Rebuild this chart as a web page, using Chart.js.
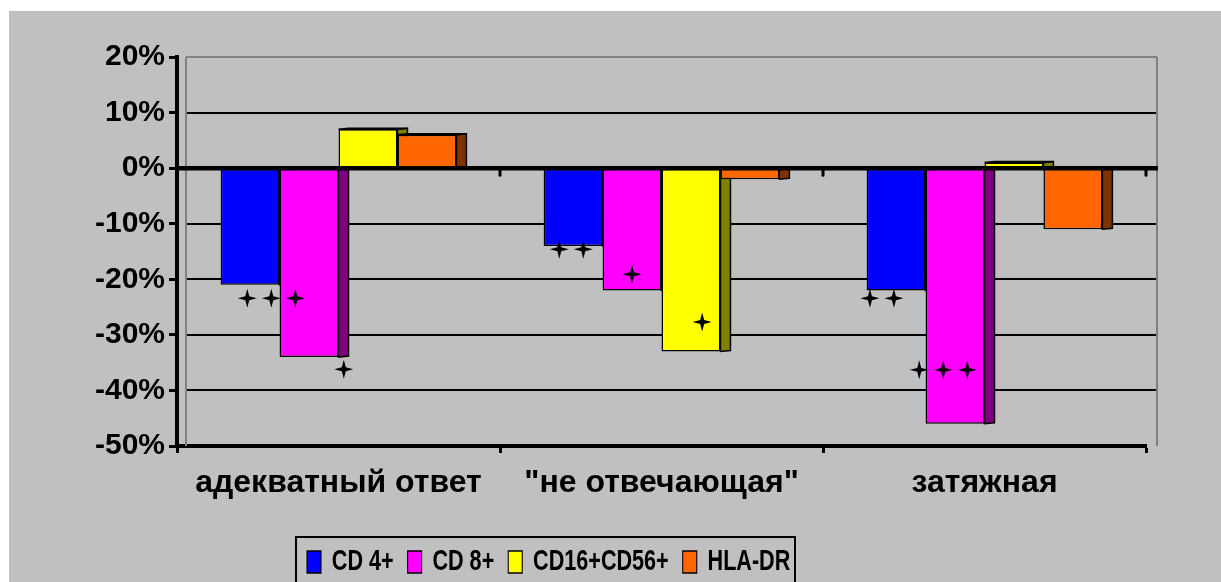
<!DOCTYPE html>
<html>
<head>
<meta charset="utf-8">
<script src="https://cdn.jsdelivr.net/npm/chart.js@4.4.1/dist/chart.umd.min.js"></script>
<style>
  html, body { margin: 0; padding: 0; background: #fff; }
</style>
</head>
<body>
<canvas id="chart" width="1221" height="582"></canvas>
<script>
// data (percent change)
const categories = ['адекватный ответ', '"не отвечающая"', 'затяжная'];
const seriesNames = ['CD 4+', 'CD 8+', 'CD16+CD56+', 'HLA-DR'];
const cd4 = [-21, -14, -22];
const cd8 = [-34, -22, -46];
const cd16cd56 = [7, -33, 1];
const hlaDr = [6, -2, -11];
const yTicks = [20, 10, 0, -10, -20, -30, -40, -50];

// significance marks (stars): series, category, how many, level in %
const markSeries = [0, 1, 0, 1, 2, 0, 1];
const markCats = [0, 0, 1, 1, 1, 2, 2];
const markCounts = [3, 1, 2, 1, 1, 2, 3];
const markLevels = [-23.4, -36.2, -14.6, -19.1, -27.7, -23.4, -36.3];
const markShift = [0.36, 0.59, -0.03, 0, 0.19, -0.24, -0.2]; // in bar widths

const fillColors = ['#0000ff', '#ff00ff', '#ffff00', '#ff6600'];
const sideColors = ['#000080', '#800080', '#808000', '#803300'];
const FONT = "'Liberation Sans', Arial, sans-serif";

const depth = 10;
const lift = 1;
const legendSquash = 0.72; // legend text in the original is condensed
const legendX = 307;

function star(c, cx, cy, r, ri) {
  c.beginPath();
  for (let k = 0; k < 8; k++) {
    const ang = k * Math.PI / 4 - Math.PI / 2;
    const rad = k % 2 ? ri : r;
    c.lineTo(cx + rad * Math.cos(ang), cy + rad * Math.sin(ang));
  }
  c.closePath();
  c.fill();
}

const decor = {
  id: 'decor',
  beforeDraw(chart) {
    const c = chart.ctx;
    c.save();
    c.fillStyle = '#ffffff';
    c.fillRect(0, 0, chart.width, chart.height);
    c.fillStyle = '#c0c0c0';
    c.fillRect(9, 11, chart.width - 9, chart.height - 11);
    c.restore();
  },
  afterLayout(chart) {
    // put the legend where the original has it, squeezed sideways
    const lg = chart.legend;
    const h = lg.height;
    const pad = lg.options.labels.padding;
    lg.left = legendX - pad;
    lg.right = 1600;
    lg.top = 562 - pad - lg.options.labels.font.size / 2;
    lg.bottom = lg.top + h;
    if (!lg._squashed) {
      const draw = lg.draw.bind(lg);
      lg.draw = function (area) {
        const c = this.ctx;
        c.save();
        c.translate(legendX, 0);
        c.scale(legendSquash, 1);
        c.translate(-legendX, 0);
        draw(area);
        c.restore();
      };
      lg._squashed = true;
    }
  },
  beforeDatasetsDraw(chart) {
    const c = chart.ctx;
    const ys = chart.scales.y;
    const a = chart.chartArea;
    const wl = a.left + 9, wr = a.right + 11;
    c.save();
    // back wall grid lines
    yTicks.forEach(t => {
      if (t === 0 || t === -50) return;
      const py = Math.round(ys.getPixelForValue(t));
      c.strokeStyle = t === 20 ? '#808080' : '#000000';
      c.lineWidth = 2;
      c.beginPath();
      c.moveTo(wl, py);
      c.lineTo(wr, py);
      c.stroke();
    });
    c.strokeStyle = '#808080';
    c.lineWidth = 2;
    c.beginPath();
    c.moveTo(wl, a.top);
    c.lineTo(wl, a.bottom);
    c.moveTo(wr, a.top);
    c.lineTo(wr, a.bottom);
    c.stroke();
    // 3D side faces, the next bar covers them
    chart.data.datasets.forEach((ds, i) => {
      chart.getDatasetMeta(i).data.forEach(bar => {
        const p = bar.getProps(['x', 'y', 'base', 'width'], true);
        const l = p.x - p.width / 2, r = p.x + p.width / 2;
        const t = Math.min(p.y, p.base), b = Math.max(p.y, p.base);
        c.fillStyle = sideColors[i];
        c.strokeStyle = '#000';
        c.lineWidth = 1.5;
        c.beginPath();
        c.moveTo(r, t);
        c.lineTo(r + depth, t - lift);
        c.lineTo(r + depth, b - lift);
        c.lineTo(r, b);
        c.closePath();
        c.fill();
        c.stroke();
        if (p.y < p.base) {
          c.beginPath();
          c.moveTo(l, t);
          c.lineTo(l + depth, t - lift);
          c.lineTo(r + depth, t - lift);
          c.lineTo(r, t);
          c.closePath();
          c.fill();
          c.stroke();
        }
      });
    });
    c.restore();
  },
  afterDatasetsDraw(chart) {
    const c = chart.ctx;
    const ys = chart.scales.y, xs = chart.scales.x;
    const a = chart.chartArea;
    const y0 = ys.getPixelForValue(0);
    c.save();
    // zero line with its small ticks
    c.strokeStyle = '#000';
    c.lineWidth = 4.5;
    c.beginPath();
    c.moveTo(a.left, y0);
    c.lineTo(a.right + 12, y0);
    c.stroke();
    const step = xs.getPixelForValue(1) - xs.getPixelForValue(0);
    c.lineWidth = 3;
    c.lineCap = 'round';
    categories.forEach((_, i) => {
      const px = xs.getPixelForValue(i) + step / 2;
      c.beginPath();
      c.moveTo(px, y0);
      c.lineTo(px, y0 + 7);
      c.stroke();
    });
    // significance stars
    c.fillStyle = '#000';
    markSeries.forEach((s, m) => {
      const bar = chart.getDatasetMeta(s).data[markCats[m]];
      const cx0 = bar.x + markShift[m] * bar.width;
      const cy = ys.getPixelForValue(markLevels[m]);
      const n = markCounts[m];
      for (let k = 0; k < n; k++) {
        star(c, cx0 + (k - (n - 1) / 2) * 24, cy, 9.5, 2.8);
      }
    });
    c.restore();
  },
  afterDraw(chart) {
    const c = chart.ctx;
    c.save();
    c.strokeStyle = '#000';
    c.lineWidth = 2;
    c.strokeRect(296, 537, 499, 60);
    c.restore();
  }
};

const values = [cd4, cd8, cd16cd56, hlaDr];

new Chart(document.getElementById('chart'), {
  type: 'bar',
  data: {
    labels: categories,
    datasets: seriesNames.map((name, i) => ({
      label: name,
      data: values[i],
      backgroundColor: fillColors[i],
      borderColor: '#000',
      borderWidth: 1.5,
      borderSkipped: false,
      categoryPercentage: 0.73,
      barPercentage: 1
    }))
  },
  options: {
    responsive: false,
    animation: false,
    layout: { padding: { top: 57, right: 75, bottom: 0, left: 0 } },
    plugins: {
      tooltip: { enabled: false },
      legend: {
        position: 'bottom',
        align: 'start',
        labels: {
          boxWidth: 14 / legendSquash,
          boxHeight: 22,
          padding: 14 / legendSquash,
          color: '#000',
          font: { family: FONT, size: 30, weight: 'bold' }
        }
      }
    },
    scales: {
      x: {
        offset: true,
        grid: {
          offset: true,
          drawOnChartArea: false,
          drawTicks: true,
          tickLength: 7,
          tickWidth: 3,
          tickColor: '#000'
        },
        border: { color: '#000', width: 4 },
        ticks: {
          color: '#000',
          padding: 11,
          font: { family: FONT, size: 32, weight: 'bold' }
        },
        afterFit(s) {
          const lg = s.chart.legend;
          s.height = 136 - (lg ? lg.height : 0);
        }
      },
      y: {
        min: -50,
        max: 20,
        afterBuildTicks(s) { s.ticks = yTicks.map(v => ({ value: v })); },
        grid: {
          drawOnChartArea: false,
          drawTicks: true,
          tickLength: 8,
          tickWidth: 3,
          tickColor: '#000'
        },
        border: { color: '#000', width: 4 },
        ticks: {
          color: '#000',
          padding: 4,
          font: { family: FONT, size: 30, weight: 'bold' },
          callback: v => v + '%'
        },
        afterFit(s) { s.width = 177; }
      }
    }
  },
  plugins: [decor]
});
</script>
</body>
</html>
